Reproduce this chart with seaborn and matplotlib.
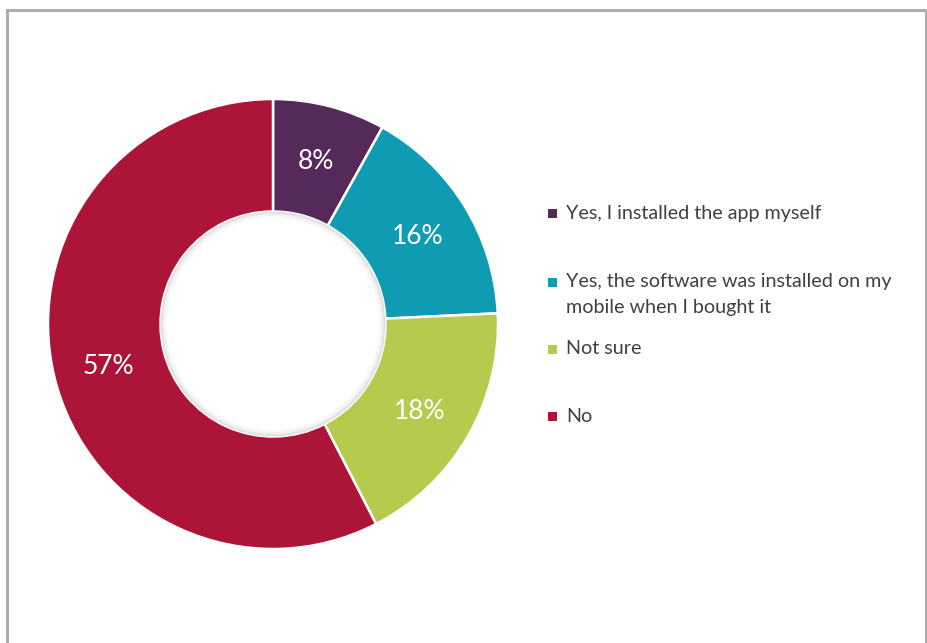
import matplotlib
matplotlib.use("Agg")
import matplotlib.pyplot as plt
import seaborn as sns
import numpy as np
from matplotlib.patches import Rectangle, Wedge

sns.set_theme(style="white")
plt.rcParams["font.family"] = ["Lato", "DejaVu Sans"]

categories = [
    "Yes, I installed the app myself",
    "Yes, the software was installed on my\nmobile when I bought it",
    "Not sure",
    "No",
]
values = [8, 16, 18, 57]
colors = ["#552A5A", "#0F9CB2", "#B6CA4D", "#AC1538"]

W, H = 927, 643
fig = plt.figure(figsize=(W / 100, H / 100), dpi=100)
fig.patch.set_facecolor("white")

# outer frame of the chart area
frame = fig.add_axes([0, 0, 1, 1])
frame.set_xlim(0, W)
frame.set_ylim(H, 0)
frame.axis("off")
frame.plot([7, 7, 926, 926], [H + 5, 10, 10, H + 5], color="#ADADAD", lw=2.2,
           solid_joinstyle="miter", clip_on=False)

# donut
cx, cy, R = 273, 324, 225
ax = fig.add_axes([(cx - R) / W, (H - cy - R) / H, 2 * R / W, 2 * R / H])
wedges, _ = ax.pie(values, colors=colors, startangle=90, counterclock=False,
                   radius=1.0,
                   wedgeprops=dict(width=0.5, edgecolor="white", linewidth=1.8))
ax.set_xlim(-1, 1)
ax.set_ylim(-1, 1)
ax.set_aspect("equal")
ax.axis("off")

# faint shade along the inner rim
for i, a in enumerate([0.06, 0.035, 0.02]):
    ax.add_patch(Wedge((0, 0), 0.5, 0, 360, width=0.01 * (i + 1),
                       facecolor="#000000", alpha=a, edgecolor="none"))

total = sum(values)
start = 90.0
for v in values:
    mid = np.deg2rad(start - v / total * 360 / 2)
    start -= v / total * 360
    r = 0.755
    ax.text(r * np.cos(mid), r * np.sin(mid) - 0.01, f"{v}%", ha="center",
            va="center", color="white", fontsize=19)

# legend
items_y = [213, 282, 349, 416]
line_gap = 25
for lab, c, y in zip(categories, colors, items_y):
    frame.add_patch(Rectangle((548, y - 4.5), 9, 9, facecolor=c, edgecolor="none"))
    for k, line in enumerate(lab.split("\n")):
        frame.text(566, y + k * line_gap, line, ha="left", va="center",
                   fontsize=14.2, color="#404040")

fig.savefig("out.png", dpi=100, facecolor="white")
